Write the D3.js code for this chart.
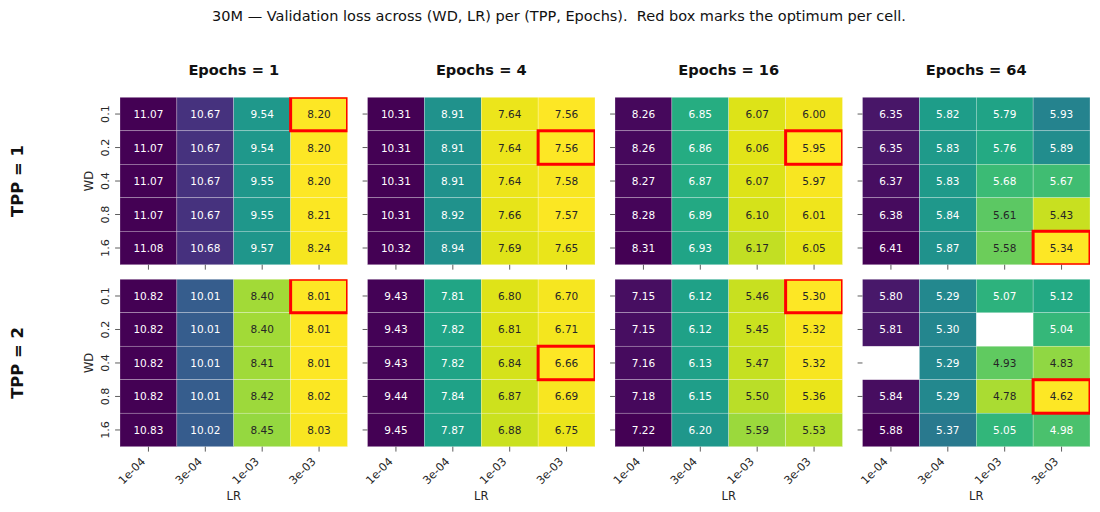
<!DOCTYPE html>
<html><head><meta charset="utf-8">
<script src="https://cdn.jsdelivr.net/npm/d3@7"></script>
<style>
body{margin:0;background:#fff}
text{font-family:"DejaVu Sans",sans-serif}
</style>
</head><body>
<svg id="c" width="1100" height="512"></svg>
<script>
const lrLabels = ["1e-04","3e-04","1e-03","3e-03"];
const wdLabels = ["0.1","0.2","0.4","0.8","1.6"];
const epochs = [1, 4, 16, 64];
const tpps = [1, 2];
// rows = WD (0.1..1.6), columns = LR (1e-04..3e-03); null = missing run
const tpp1_e1 = [
  [11.07, 10.67, 9.54, 8.198],
  [11.07, 10.67, 9.54, 8.201],
  [11.07, 10.67, 9.55, 8.203],
  [11.07, 10.67, 9.55, 8.21],
  [11.08, 10.68, 9.57, 8.24]];
const tpp1_e4 = [
  [10.31, 8.91, 7.64, 7.562],
  [10.31, 8.91, 7.64, 7.558],
  [10.31, 8.91, 7.64, 7.58],
  [10.31, 8.92, 7.66, 7.57],
  [10.32, 8.94, 7.69, 7.65]];
const tpp1_e16 = [
  [8.26, 6.85, 6.07, 6.00],
  [8.26, 6.86, 6.06, 5.95],
  [8.27, 6.87, 6.07, 5.97],
  [8.28, 6.89, 6.10, 6.01],
  [8.31, 6.93, 6.17, 6.05]];
const tpp1_e64 = [
  [6.35, 5.82, 5.79, 5.93],
  [6.35, 5.83, 5.76, 5.89],
  [6.37, 5.83, 5.68, 5.67],
  [6.38, 5.84, 5.61, 5.43],
  [6.41, 5.87, 5.58, 5.34]];
const tpp2_e1 = [
  [10.82, 10.01, 8.40, 8.006],
  [10.82, 10.01, 8.40, 8.009],
  [10.82, 10.01, 8.41, 8.011],
  [10.82, 10.01, 8.42, 8.02],
  [10.83, 10.02, 8.45, 8.03]];
const tpp2_e4 = [
  [9.43, 7.81, 6.80, 6.70],
  [9.43, 7.82, 6.81, 6.71],
  [9.43, 7.82, 6.84, 6.66],
  [9.44, 7.84, 6.87, 6.69],
  [9.45, 7.87, 6.88, 6.75]];
const tpp2_e16 = [
  [7.15, 6.12, 5.46, 5.30],
  [7.15, 6.12, 5.45, 5.32],
  [7.16, 6.13, 5.47, 5.32],
  [7.18, 6.15, 5.50, 5.36],
  [7.22, 6.20, 5.59, 5.53]];
const tpp2_e64 = [
  [5.80, 5.29, 5.07, 5.12],
  [5.81, 5.30, null, 5.04],
  [null, 5.29, 4.93, 4.83],
  [5.84, 5.29, 4.78, 4.62],
  [5.88, 5.37, 5.05, 4.98]];

const grids = [
  [tpp1_e1, tpp1_e4, tpp1_e16, tpp1_e64],
  [tpp2_e1, tpp2_e4, tpp2_e16, tpp2_e64]];

const svg = d3.select("#c");
const colX = d3.scaleBand().domain(epochs).range([120, 1090]).paddingInner(0.0808).paddingOuter(0);
const rowY = d3.scaleBand().domain(tpps).range([97.3, 446.7]).paddingInner(0.0797).paddingOuter(0);
const pw = colX.bandwidth(), ph = rowY.bandwidth();

function lum(c) {
  const r = d3.rgb(c);
  const f = v => { v /= 255; return v <= 0.03928 ? v / 12.92 : Math.pow((v + 0.055) / 1.055, 2.4); };
  return 0.2126 * f(r.r) + 0.7152 * f(r.g) + 0.0722 * f(r.b);
}

svg.append("text").attr("x", 559).attr("y", 21).attr("text-anchor", "middle")
  .attr("font-size", 14.5).attr("fill", "#111")
  .attr("xml:space", "preserve").style("white-space", "pre")
  .text("30M \u2014 Validation loss across (WD, LR) per (TPP, Epochs).  Red box marks the optimum per cell.");

epochs.forEach(e => {
  svg.append("text").attr("x", colX(e) + pw / 2).attr("y", 74.5).attr("text-anchor", "middle")
    .attr("font-size", 14.6).attr("font-weight", "bold").attr("fill", "#111").text(`Epochs = ${e}`);
});
tpps.forEach(t => {
  svg.append("text").attr("transform", `translate(23,${rowY(t) + ph / 2}) rotate(-90)`)
    .attr("text-anchor", "middle").attr("font-size", 16.4).attr("font-weight", "bold").attr("fill", "#111")
    .text(`TPP = ${t}`);
});

tpps.forEach((t, ri) => {
  epochs.forEach((e, ci) => {
    const data = grids[ri][ci];
    const x = d3.scaleBand().domain(lrLabels).range([0, pw]);
    const y = d3.scaleBand().domain(wdLabels).range([0, ph]);
    const vals = data.flat().filter(v => v != null);
    const vmin = d3.min(vals), vmax = d3.max(vals);
    const color = d3.scaleSequential(d3.interpolateViridis).domain([vmax, vmin]);
    const g = svg.append("g").attr("transform", `translate(${colX(e)},${rowY(t)})`);
    const clipId = `clip-${ri}-${ci}`;
    g.append("clipPath").attr("id", clipId).append("rect").attr("width", pw).attr("height", ph);

    const cells = [];
    data.forEach((row, i) => row.forEach((v, j) => { if (v != null) cells.push({ i, j, v }); }));

    g.selectAll("rect.cell").data(cells).join("rect").attr("class", "cell")
      .attr("x", d => x(lrLabels[d.j])).attr("y", d => y(wdLabels[d.i]))
      .attr("width", x.bandwidth()).attr("height", y.bandwidth())
      .attr("fill", d => color(d.v)).attr("stroke", "#fff").attr("stroke-width", 0.5).attr("stroke-opacity", 0.5);

    g.selectAll("text.ann").data(cells).join("text").attr("class", "ann")
      .attr("x", d => x(lrLabels[d.j]) + x.bandwidth() / 2)
      .attr("y", d => y(wdLabels[d.i]) + y.bandwidth() / 2)
      .attr("text-anchor", "middle").attr("dominant-baseline", "central")
      .attr("font-size", 10.5)
      .attr("fill", d => lum(color(d.v)) > 0.408 ? "#262626" : "#ffffff")
      .text(d => d.v.toFixed(2));

    const best = cells.reduce((a, b) => (b.v < a.v ? b : a));
    g.append("rect").attr("clip-path", `url(#${clipId})`)
      .attr("x", x(lrLabels[best.j])).attr("y", y(wdLabels[best.i]))
      .attr("width", x.bandwidth()).attr("height", y.bandwidth())
      .attr("fill", "none").attr("stroke", "#ff0000").attr("stroke-width", 3);

    // y axis
    const ya = g.append("g").call(d3.axisLeft(y).tickSize(4.9).tickPadding(0));
    ya.select(".domain").remove();
    ya.selectAll(".tick line").attr("stroke", "#333").attr("stroke-width", 0.8);
    if (ci === 0) {
      ya.selectAll(".tick text").attr("x", null).attr("dy", null)
        .attr("text-anchor", "middle").attr("transform", "translate(-11.5,0) rotate(-90)")
        .attr("font-size", 11.2).attr("fill", "#262626").attr("font-family", "DejaVu Sans");
      g.append("text").attr("transform", `translate(-27.5,${ph / 2}) rotate(-90)`)
        .attr("text-anchor", "middle").attr("font-size", 11.5).attr("fill", "#262626").text("WD");
    } else {
      ya.selectAll(".tick text").remove();
    }
    // x axis
    const xa = g.append("g").attr("transform", `translate(0,${ph})`)
      .call(d3.axisBottom(x).tickSize(4.9).tickPadding(0));
    xa.select(".domain").remove();
    xa.selectAll(".tick line").attr("stroke", "#333").attr("stroke-width", 0.8);
    if (ri === tpps.length - 1) {
      xa.selectAll(".tick text").attr("y", null).attr("dy", null)
        .attr("text-anchor", "end").attr("transform", "translate(-2.5,15.5) rotate(-45)")
        .attr("font-size", 11.2).attr("fill", "#262626").attr("font-family", "DejaVu Sans");
      g.append("text").attr("x", pw / 2).attr("y", ph + 53.5).attr("text-anchor", "middle")
        .attr("font-size", 11.5).attr("fill", "#262626").text("LR");
    } else {
      xa.selectAll(".tick text").remove();
    }
  });
});
</script>
</body></html>
